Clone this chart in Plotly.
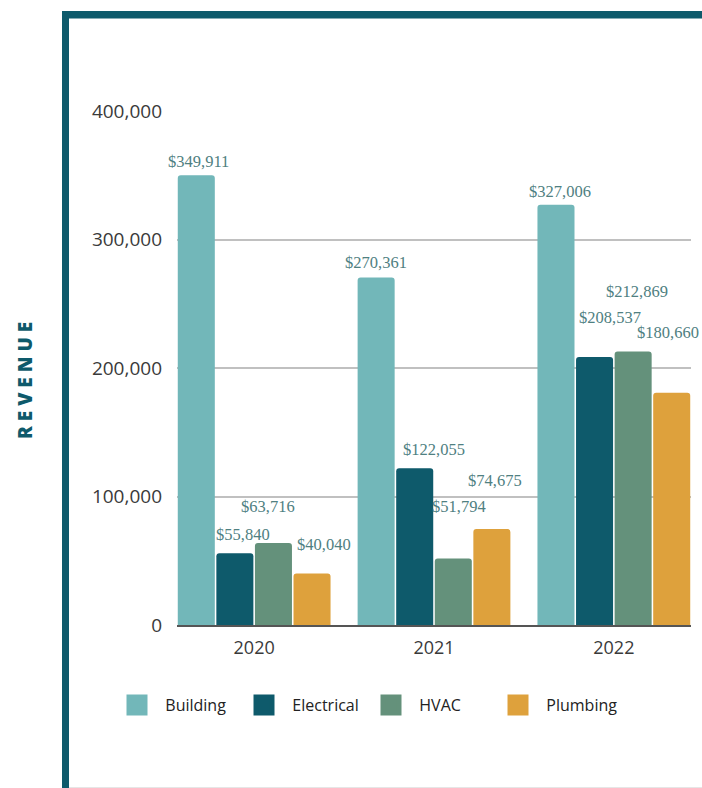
import plotly.graph_objects as go

# ---- data ----
years = ["2020", "2021", "2022"]
series = ["Building", "Electrical", "HVAC", "Plumbing"]
building = [349911, 270361, 327006]
electrical = [55840, 122055, 208537]
hvac = [63716, 51794, 212869]
plumbing = [40040, 74675, 180660]
y_ticks = [0, 100000, 200000, 300000, 400000]

values = [building, electrical, hvac, plumbing]
colors = ["#72b7b9", "#0e5a6b", "#64917b", "#dea13c"]

# label nudges in px (to avoid overlaps), indexed [series][year]
label_dx = [[2.5, 0, 4.5], [8, 19, 15.5], [-5.5, 5.5, 3.5], [12, 3, -4]]
label_dy = [[14, 15, 13], [19, 19, 40], [37, 52, 60], [29, 49, 60]]

W, H = 702, 788
ML, MR, MT, MB = 177, 11, 111, 163
PW, PH = W - ML - MR, H - MT - MB
BARGAP = 0.142
NBSP = "\u00a0"


def px_x(p):
    return (p - ML) / PW


def px_y(p):
    return (H - MB - p) / PH


fig = go.Figure()

for name, vals, col in zip(series, values, colors):
    fig.add_trace(go.Bar(
        x=years, y=vals, name=name, marker=dict(color=col, line=dict(width=0)),
        showlegend=False, hovertemplate="%{x}<br>" + name + ": $%{y:,}<extra></extra>",
    ))

# legend entries (larger square swatches)
for name, col in zip(series, colors):
    fig.add_trace(go.Scatter(
        x=[None], y=[None], mode="markers", name=NBSP * 2 + name,
        marker=dict(symbol="square", size=16, color=col, line=dict(color=col, width=5)),
        showlegend=True, hoverinfo="skip",
    ))

# value labels
slot = (1 - BARGAP) / len(series)
for j, (vals, dxs, dys) in enumerate(zip(values, label_dx, label_dy)):
    off = (j - (len(series) - 1) / 2) * slot
    for i, v in enumerate(vals):
        fig.add_annotation(
            x=i + off, y=v, xref="x", yref="y", text=f"${v:,}", showarrow=False,
            xanchor="center", yanchor="middle", xshift=dxs[i], yshift=dys[i],
            font=dict(family="Liberation Serif", size=16.5, color="#4f8081"),
        )

# axis title
fig.add_annotation(
    x=px_x(25), y=px_y(381), xref="paper", yref="paper", text="R E V E N U E",
    textangle=-90, showarrow=False, xanchor="center", yanchor="middle",
    font=dict(family="Open Sans", size=19, color="#0e5a6b", weight=800),
)

# frame bars (left and top)
fig.add_shape(type="rect", xref="paper", yref="paper", x0=px_x(62), x1=px_x(69),
              y0=px_y(800), y1=px_y(11), fillcolor="#0e5a6b", line=dict(width=0), layer="above")
fig.add_shape(type="rect", xref="paper", yref="paper", x0=px_x(62), x1=px_x(710),
              y0=px_y(18.5), y1=px_y(11), fillcolor="#0e5a6b", line=dict(width=0), layer="above")
# faint bottom edge line
fig.add_shape(type="line", xref="paper", yref="paper", x0=px_x(69), x1=px_x(710),
              y0=px_y(787.5), y1=px_y(787.5), line=dict(color="#e6e6e6", width=1), layer="above")

fig.update_layout(
    width=W, height=H,
    margin=dict(l=ML, r=MR, t=MT, b=MB, autoexpand=False),
    paper_bgcolor="white", plot_bgcolor="white",
    barmode="group", bargap=BARGAP, bargroupgap=0.04, barcornerradius=3,
    font=dict(family="Open Sans", color="#3a3a3a"),
    xaxis=dict(
        type="category", range=[-0.5 + BARGAP / 2, 2.5 - BARGAP / 2],
        showline=True, linecolor="#555555", linewidth=2, ticks="",
        tickfont=dict(family="Open Sans", size=18, color="#3a3a3a"),
        ticklabelstandoff=5, showgrid=False, fixedrange=True,
    ),
    yaxis=dict(
        range=[0, 400000], tickvals=y_ticks, tickformat=",", showgrid=True,
        gridcolor="#c0c0c0", gridwidth=2, zeroline=False, showline=False, ticks="",
        tickfont=dict(family="Open Sans", size=19, color="#3a3a3a"),
        ticklabelstandoff=14, fixedrange=True,
    ),
    showlegend=True,
    legend=dict(
        orientation="h", x=px_x(117), y=px_y(705), xanchor="left", yanchor="middle",
        font=dict(family="Open Sans", size=16, color="#222222"),
        entrywidth=82, entrywidthmode="pixels", bgcolor="rgba(0,0,0,0)",
        itemclick=False, itemdoubleclick=False,
    ),
)

fig.write_html(
    "out.html",
    config={"displayModeBar": False},
    post_script="document.body.style.margin='0';document.body.style.padding='0';",
)
